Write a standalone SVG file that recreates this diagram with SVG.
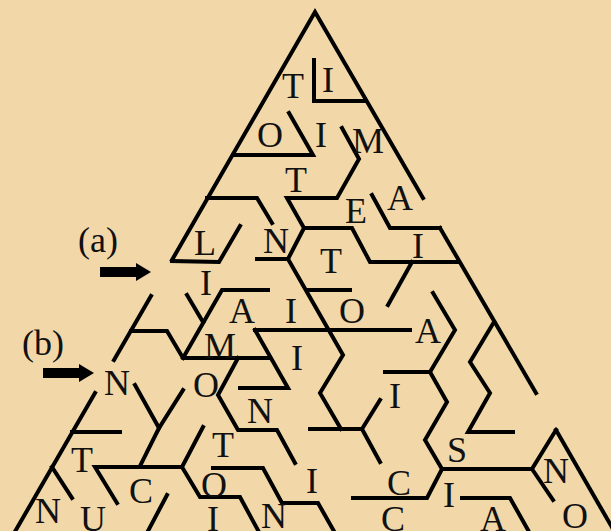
<svg xmlns="http://www.w3.org/2000/svg" width="611" height="531" viewBox="0 0 611 531">
<style>
.w{fill:none;stroke:#000;stroke-width:4;stroke-linecap:square;stroke-linejoin:miter}
.t{font-family:"Liberation Serif","Times New Roman",serif;font-size:36px;fill:#111;text-anchor:middle}
</style>
<rect width="611" height="531" fill="#F2D8A8"/>
<g id="walls" class="w">
<path d="M172,260 L315,12 L423,198"/>
<path d="M440,228 L536,393"/>
<path d="M556,430 L617,536"/>
<path d="M151,296 L114,360"/>
<path d="M95,393 L13,535"/>
<path d="M314,60 L314,101 L366,101"/>
<path d="M289,113 L313,155 L233,155"/>
<path d="M342,128 L359,159 L337,198 L287,198 L304,228 L288,259 L257,259"/>
<path d="M304,228 L352,228 L370,262 L458,262"/>
<path d="M288,259 L343,355 L320,393 L341,429"/>
<path d="M207,198 L257,198 L272,223"/>
<path d="M172,261 L219,262 L240,226"/>
<path d="M372,195 L390,228 L440,228"/>
<path d="M412,262 L388,305"/>
<path d="M307,290 L350,290"/>
<path d="M255,330 L410,330"/>
<path d="M255,330 L288,388 L240,388"/>
<path d="M433,293 L455,330 L430,372 L385,372"/>
<path d="M430,372 L447,402 L425,440 L442,469 L532,469"/>
<path d="M442,469 L427,498 L353,498"/>
<path d="M494,322 L470,362 L490,393 L468,432 L513,432"/>
<path d="M553,500 L532,469 L556,430"/>
<path d="M462,498 L510,498 L528,530"/>
<path d="M310,429 L362,429"/>
<path d="M380,400 L362,429 L380,462"/>
<path d="M131,331 L167,331 L183,358 L270,358"/>
<path d="M183,358 L222,290 L268,290"/>
<path d="M187,295 L203,322"/>
<path d="M238,358 L218,395 L238,430 L277,430 L295,463"/>
<path d="M72,432 L120,432"/>
<path d="M52,467 L72,498"/>
<path d="M135,385 L159,428 L183,390"/>
<path d="M159,428 L140,466"/>
<path d="M117,503 L95,467 L182,467"/>
<path d="M203,427 L182,467 L200,497 L240,497 L260,534"/>
<path d="M213,468 L263,468 L282,503 L318,503 L335,533"/>
<path d="M167,495 L148,531"/>
</g>
<g id="entrances">
<rect x="100" y="267" width="38" height="10" fill="#000"/>
<polygon points="136,263 151,272 136,281" fill="#000"/>
<text class="t" x="98" y="252">(a)</text>
<rect x="43" y="368" width="38" height="10" fill="#000"/>
<polygon points="79,364 94,373 79,382" fill="#000"/>
<text class="t" x="43" y="355">(b)</text>
</g>
<g id="letters" class="t">
<text x="293" y="98">T</text>
<text x="328" y="92">I</text>
<text x="270" y="147">O</text>
<text x="321" y="147">I</text>
<text x="368" y="153">M</text>
<text x="296" y="192">T</text>
<text x="356" y="223">E</text>
<text x="400" y="210">A</text>
<text x="205" y="255">L</text>
<text x="276" y="253">N</text>
<text x="418" y="258">I</text>
<text x="331" y="273">T</text>
<text x="206" y="295">I</text>
<text x="242" y="323">A</text>
<text x="291" y="323">I</text>
<text x="352" y="323">O</text>
<text x="428" y="343">A</text>
<text x="220" y="358">M</text>
<text x="297" y="370">I</text>
<text x="117" y="395">N</text>
<text x="206" y="397">O</text>
<text x="395" y="408">I</text>
<text x="260" y="423">N</text>
<text x="223" y="457">T</text>
<text x="457" y="462">S</text>
<text x="82" y="472">T</text>
<text x="214" y="497">O</text>
<text x="312" y="493">I</text>
<text x="556" y="483">N</text>
<text x="399" y="495">C</text>
<text x="141" y="503">C</text>
<text x="449" y="507">I</text>
<text x="48" y="523">N</text>
<text x="93" y="531">U</text>
<text x="213" y="531">I</text>
<text x="274" y="528">N</text>
<text x="393" y="531">C</text>
<text x="493" y="531">A</text>
<text x="575" y="528">O</text>
</g>
</svg>
